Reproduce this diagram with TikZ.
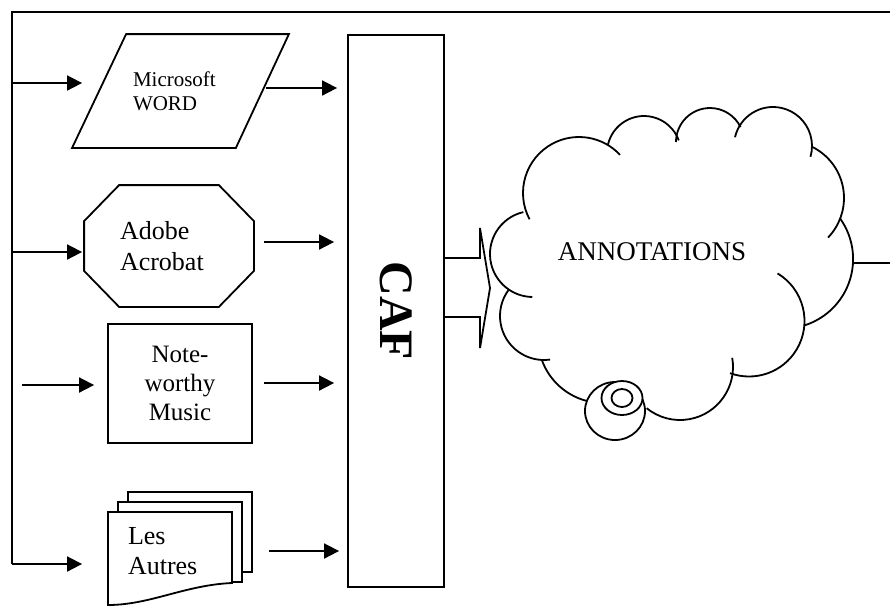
\documentclass[tikz,border=0pt]{standalone}
\usepackage{fontspec}
\setmainfont{Liberation Serif}
\usepackage{graphicx}
\usetikzlibrary{shapes.geometric,arrows.meta,positioning,calc}

\begin{document}
\begin{tikzpicture}[
    x=0.5pt, y=-0.5pt, line width=0.9pt,
    >={Triangle[length=7.5pt,width=7.5pt]},
    flow/.style={->},
    app/.style={inner sep=0pt},
    page/.style={fill=white}
]
    \useasboundingbox (0,0) rectangle (890,607);

    % Frame and free ends
    \coordinate (edge) at (890,12);
    \coordinate (in1) at (12,83);
    \coordinate (in2) at (12,252);
    \coordinate (in3) at (22,385);
    \coordinate (in4) at (12,564);
    \draw (edge) -- (in1 |- edge) -- (in4);

    % Applications
    \node[app, minimum width=107.5pt, minimum height=56pt, text width=47.5pt, align=left,
          font=\fontsize{10.5}{12}\selectfont] (word) at (180.5,91) {Microsoft\\WORD};
    \draw ([xshift=27pt]word.north west) -- (word.north east)
        -- ([xshift=-26.5pt]word.south east) -- (word.south west) -- cycle;
    \node[app, minimum width=84pt, minimum height=60pt, text width=49pt, align=left,
          font=\fontsize{13}{15.3}\selectfont] (adobe) at (169,246) {Adobe\\Acrobat};
    \draw ([xshift=17.5pt]adobe.north west) -- ([xshift=-17.5pt]adobe.north east)
        -- ([yshift=-18pt]adobe.north east) -- ([yshift=18pt]adobe.south east)
        -- ([xshift=-17.5pt]adobe.south east) -- ([xshift=17.5pt]adobe.south west)
        -- ([yshift=18pt]adobe.south west) -- ([yshift=-18pt]adobe.north west) -- cycle;
    \node[app, draw, minimum width=72pt, minimum height=59.5pt, align=center,
          font=\fontsize{12.5}{14.5}\selectfont] (note) at (180,383.5) {Note-\\worthy\\Music};

    % Document stack
    \draw[page] (128,492) rectangle (252,572);
    \draw[page] (118,502) rectangle (242,582);
    \draw[page] (108,512) -- (232,512) -- (232,583)
        .. controls (185,585) and (150,605) .. (108,605) -- cycle;
    \node[app, minimum width=62pt, minimum height=44pt, text width=42pt, align=left,
          font=\fontsize{13}{15}\selectfont] (autres) at (170,551) {Les\\Autres};

    \node[app, draw, minimum width=48pt, minimum height=276pt,
          font=\fontsize{24}{28}\selectfont\bfseries] (caf) at (396,311) {\rotatebox{-90}{CAF}};

    % Inputs
    \draw[flow] (in1) -- ([xshift=5pt]in1 -| word.west);
    \draw[flow, shorten >=1pt] (in2) -- (in2 -| adobe.west);
    \draw[flow, shorten >=6.5pt] (in3) -- (in3 -| note.west);
    \draw[flow, shorten >=12.5pt] (in4) -- (in4 -| autres.west);

    % Outputs to CAF
    \draw[flow, shorten >=5pt] ([xshift=-11.5pt,yshift=1.5pt]word.east) -- ([yshift=1.5pt]word.east -| caf.west);
    \draw[flow, shorten <=5pt, shorten >=6.5pt] ([yshift=2pt]adobe.east) -- ([yshift=2pt]adobe.east -| caf.west);
    \draw[flow, shorten <=5.5pt, shorten >=6.5pt] ([yshift=0.25pt]note.east) -- ([yshift=0.25pt]note.east -| caf.west);
    \draw[flow, shorten <=18pt, shorten >=4pt] (autres.east) -- (autres.east -| caf.west);

    % Block arrow
    \draw (caf.east |- 0,258) -- (480,258) -- (480,228) -- (490,288)
        -- (480,348) -- (480,317) -- (caf.east |- 0,317);

    % Cloud
    \foreach \cx/\cy/\r/\a/\b in {533/254/43/257/91, 579/193/56/152/317,
        644/153/37/193/340, 710/142/34/180/334, 773/146/39/193/376,
        787/198/57/296/404, 783.5/259/69.6/324/432, 749/321/55.5/301/470,
        680/367/53/-10/129, 603/338/65/102/160, 544/316/44/216/82}
        \draw (\cx,\cy) ++(\a:\r) arc[start angle=\a, end angle=\b, radius=\r];
    \draw[fill=white] (615,411) ellipse [x radius=30, y radius=29];
    \draw[fill=white] (622,398) ellipse [x radius=20.5, y radius=17];
    \draw (622,398) ellipse [x radius=10.5, y radius=9];
    \node[anchor=base, font=\fontsize{13.5}{15}\selectfont] (annot) at (652,260) {ANNOTATIONS};

    \coordinate (cloudtip) at (853,263);
    \coordinate (rightedge) at (890,263);
    \draw (cloudtip) -- (rightedge);
\end{tikzpicture}
\end{document}
